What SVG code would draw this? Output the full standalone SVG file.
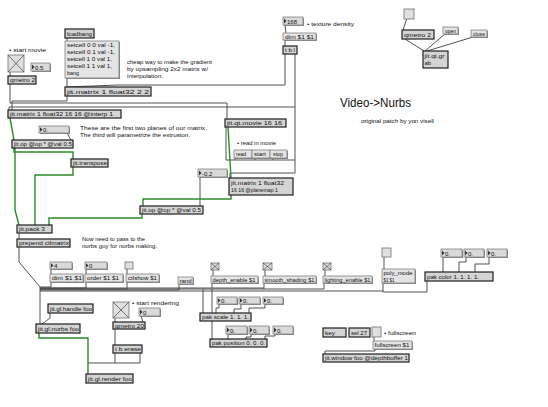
<svg xmlns="http://www.w3.org/2000/svg" width="548" height="407" viewBox="0 0 548 407">
<style>
.o{fill:#d4d4d4;stroke:#1e1e1e;stroke-width:1.2}
.m{fill:#e4e4e4;stroke:#808080;stroke-width:0.8}
.sh{fill:#8a8a8a}
.n{fill:#dadada;stroke:#808080;stroke-width:0.8}
.tri{fill:#333}
.tg{fill:#e0e0e0;stroke:#707070;stroke-width:0.8}
.x{stroke:#505050;stroke-width:0.8}
.w{stroke:#404040;fill:none;stroke-width:0.9}
.g{stroke:#2b8a2b;fill:none;stroke-width:1.4}
text{font-family:"Liberation Sans",Arial,sans-serif;font-size:6px;fill:#111}
.c{font-size:5.6px}
.title{font-size:12px}
.sm{font-size:5px}
</style>
<rect width="548" height="407" fill="#fff"/>

<g id="connectors">
<!-- top left -->
<polyline class="w" points="10,72 10,76"/>
<polyline class="w" points="10,84 10,103 227,103 227,119"/>
<polyline class="w" points="67,38 67,41"/>
<polyline class="w" points="67,78 67,87"/>
<polyline class="w" points="67,96 67,101 12,101 12,110"/>
<polyline class="w" points="285,25 286,33"/>
<polyline class="w" points="285,40 285,46"/>
<polyline class="w" points="285,54 285,85 118,85 66,87"/>
<polyline class="w" points="295,54 295,107 9,107 9,110"/>
<polyline class="w" points="295,107 295,173 230,173 230,178"/>
<polyline class="w" points="295,160 226,160 226,127"/>
<polyline class="w" points="235,158 235,160"/>
<polyline class="w" points="255,158 255,160"/>
<polyline class="w" points="273,158 273,160"/>
<polyline class="w" points="200,177 200,206"/>
<polyline class="w" points="67,133 71,140"/>
<!-- top right -->
<line class="w" x1="407" y1="18" x2="403" y2="30"/>
<line class="w" x1="405" y1="39" x2="424" y2="51"/>
<line class="w" x1="445" y1="34" x2="425" y2="51"/>
<line class="w" x1="473" y1="37" x2="427" y2="51"/>
<!-- green matrix lines -->
<polyline class="g" points="10,118 14,140"/>
<polyline class="g" points="14,148 14,152 73,152 73,159"/>
<polyline class="g" points="15,148 15,210 19,225"/>
<polyline class="g" points="73,167 73,175 35,175 35,225"/>
<polyline class="g" points="228,127 231,178"/>
<polyline class="g" points="231,195 231,199 143,199 143,206"/>
<polyline class="g" points="142,213 142,218 49,218 49,225"/>
<!-- middle -->
<polyline class="w" points="19,233 19,239"/>
<polyline class="w" points="19,247 19,262 40,287 40,324"/>
<polyline class="w" points="51,269 51,274"/>
<polyline class="w" points="86,269 86,274"/>
<polyline class="w" points="127,269 127,274"/>
<polyline class="w" points="213,270 213,276"/>
<polyline class="w" points="265,270 265,276"/>
<polyline class="w" points="325,270 325,276"/>
<polyline class="w" points="384,257 384,269"/>
<!-- bus -->
<polyline class="w" points="51,282 51,287 40,287"/>
<polyline class="w" points="86,282 86,288 40,288"/>
<polyline class="w" points="127,282 127,289 40,289"/>
<polyline class="w" points="179,284 179,290 40,290"/>
<polyline class="w" points="212,283 212,288"/>
<polyline class="w" points="264,283 264,289"/>
<polyline class="w" points="324,283 324,289 40,289"/>
<polyline class="w" points="383,283 383,291 40,291"/>
<polyline class="w" points="427,281 427,292 383,292 383,291"/>
<polyline class="w" points="40,288 264,288"/>
<polyline class="w" points="203,289 203,313"/>
<polyline class="w" points="212,289 212,339"/>
<!-- pak color -->
<polyline class="w" points="443,257 443,272"/>
<polyline class="w" points="466,257 466,262 459,262 459,272"/>
<polyline class="w" points="489,257 489,264 475,264 475,272"/>
<!-- pak scale -->
<polyline class="w" points="219,304 219,308 216,308 216,313"/>
<polyline class="w" points="241,304 241,309 234,309 234,313"/>
<polyline class="w" points="265,304 265,308 249,308 249,313"/>
<!-- pak position -->
<polyline class="w" points="228,334 228,339"/>
<polyline class="w" points="251,334 251,337 246,337 246,339"/>
<polyline class="w" points="275,334 275,336 265,336 265,339"/>
<!-- fullscreen -->
<polyline class="w" points="374,337 374,341"/>
<polyline class="w" points="375,349 375,351 325,351 325,354"/>
<!-- render -->
<polyline class="w" points="115,318 115,322"/>
<polyline class="w" points="141,316 143,322"/>
<polyline class="w" points="115,329 115,345"/>
<polyline class="w" points="115,353 115,363"/>
<polyline class="w" points="140,353 140,363 88,363"/>
<polyline class="w" points="50,313 50,318 42,324"/>
<polyline class="g" points="39,333 39,338 88,338 88,374"/>
</g>

<!-- comments -->
<g id="comments">
<text class="c" x="9" y="52" textLength="37" lengthAdjust="spacingAndGlyphs">• start movie</text>
<text class="c" x="127" y="64" textLength="85" lengthAdjust="spacingAndGlyphs">cheap way to make the gradient</text>
<text class="c" x="127" y="71" textLength="81" lengthAdjust="spacingAndGlyphs">by upsampling 2x2 matrix w/</text>
<text class="c" x="127" y="78" textLength="36" lengthAdjust="spacingAndGlyphs">interpolation.</text>
<text class="c" x="307" y="26" textLength="47" lengthAdjust="spacingAndGlyphs">• texture density</text>
<text class="c" x="80" y="130" textLength="127" lengthAdjust="spacingAndGlyphs">These are the first two planes of our matrix.</text>
<text class="c" x="80" y="137" textLength="110" lengthAdjust="spacingAndGlyphs">The third will parametrize the extrusion.</text>
<text class="c" x="237" y="145" textLength="39" lengthAdjust="spacingAndGlyphs">• read in movie</text>
<text class="title" x="340" y="107" textLength="71" lengthAdjust="spacingAndGlyphs">Video-&gt;Nurbs</text>
<text class="sm" x="361" y="123" textLength="73" lengthAdjust="spacingAndGlyphs">original patch by yon visell</text>
<text class="c" x="82" y="241" textLength="63" lengthAdjust="spacingAndGlyphs">Now need to pass to the</text>
<text class="c" x="82" y="248" textLength="75" lengthAdjust="spacingAndGlyphs">nurbs guy for nurbs making.</text>
<text class="c" x="132" y="305" textLength="47" lengthAdjust="spacingAndGlyphs">• start rendering</text>
<text class="c" x="384" y="335" textLength="32" lengthAdjust="spacingAndGlyphs">• fullscreen</text>
</g>

<!-- top left -->
<g id="toggle-movie"><rect class="tg" x="8" y="55" width="16" height="17"/><line class="x" x1="8" y1="55" x2="24" y2="72"/><line class="x" x1="24" y1="55" x2="8" y2="72"/></g>
<g id="num-05"><rect class="sh" x="32" y="64" width="19" height="8"/><rect class="n" x="31" y="63" width="19" height="8"/><polygon class="tri" points="32,64.5 34.5,67 32,69.5"/><text x="35" y="69.5">0.5</text></g>
<g id="qmetro2a"><rect class="o" x="8" y="76" width="28" height="8"/><text x="10" y="82.3" textLength="25" lengthAdjust="spacingAndGlyphs">qmetro 2</text></g>
<g id="loadbang"><rect class="o" x="65" y="29" width="29" height="9"/><text x="67" y="35.8" textLength="25" lengthAdjust="spacingAndGlyphs">loadbang</text></g>
<g id="setcell"><rect class="sh" x="66" y="42" width="54" height="37"/><rect class="m" x="65" y="41" width="54" height="37"/>
<text x="67" y="47" textLength="48" lengthAdjust="spacingAndGlyphs">setcell 0 0 val -1,</text>
<text x="67" y="54" textLength="48" lengthAdjust="spacingAndGlyphs">setcell 0 1 val -1,</text>
<text x="67" y="61" textLength="45" lengthAdjust="spacingAndGlyphs">setcell 1 0 val 1,</text>
<text x="67" y="68" textLength="45" lengthAdjust="spacingAndGlyphs">setcell 1 1 val 1,</text>
<text x="67" y="75" textLength="12" lengthAdjust="spacingAndGlyphs">bang</text></g>
<g id="jitmatrix22"><rect class="o" x="65" y="87" width="86" height="9"/><text x="67" y="93.8" textLength="82" lengthAdjust="spacingAndGlyphs">jit.matrix 1 float32 2 2</text></g>

<g id="num-168"><rect class="sh" x="284" y="18" width="20" height="8"/><rect class="n" x="283" y="17" width="20" height="8"/><polygon class="tri" points="284,18.5 286.5,21 284,23.5"/><text x="287" y="23.5" textLength="10" lengthAdjust="spacingAndGlyphs">168</text></g>
<g id="dim-top"><rect class="sh" x="284" y="34" width="33" height="7"/><rect class="m" x="283" y="33" width="33" height="7"/><text x="285" y="38.6" textLength="29" lengthAdjust="spacingAndGlyphs">dim $1 $1</text></g>
<g id="tbl"><rect class="o" x="283" y="46" width="14" height="8"/><text x="285" y="52.3" textLength="10" lengthAdjust="spacingAndGlyphs">t b l</text></g>

<!-- top right -->
<g id="toggle-grab"><rect class="tg" x="404" y="9" width="10" height="10"/></g>
<g id="qmetro2b"><rect class="o" x="402" y="30" width="32" height="9"/><text x="404" y="36.8" textLength="27" lengthAdjust="spacingAndGlyphs">qmetro 2</text></g>
<g id="open"><rect class="sh" x="444" y="28" width="15" height="7"/><rect class="m" x="443" y="27" width="15" height="7"/><text x="445" y="32.6" textLength="11" lengthAdjust="spacingAndGlyphs">open</text></g>
<g id="close"><rect class="sh" x="472" y="31" width="16" height="7"/><rect class="m" x="471" y="30" width="16" height="7"/><text x="473" y="35.6" textLength="12" lengthAdjust="spacingAndGlyphs">close</text></g>
<g id="jitqtgrab"><rect class="o" x="423" y="51" width="25" height="17"/><text x="424.5" y="57.5" textLength="20" lengthAdjust="spacingAndGlyphs">jit.qt.gr</text><text x="424.5" y="64.5">ab</text></g>

<!-- matrix chain -->
<g id="jitmatrix1616"><rect class="o" x="8" y="110" width="113" height="8"/><text x="10" y="116.3" textLength="103" lengthAdjust="spacingAndGlyphs">jit.matrix 1 float32 16 16 @interp 1</text></g>
<g id="num-0a"><rect class="sh" x="40" y="127" width="30" height="7"/><rect class="n" x="39" y="126" width="30" height="7"/><polygon class="tri" points="40,127.3 42.5,129.5 40,131.7"/><text x="43" y="131.8">0.</text></g>
<g id="jitop1"><rect class="o" x="12" y="140" width="61" height="8"/><text x="14" y="146.3" textLength="58" lengthAdjust="spacingAndGlyphs">jit.op @op * @val 0.5</text></g>
<g id="jittranspose"><rect class="o" x="71" y="159" width="37" height="8"/><text x="73" y="165.3" textLength="34" lengthAdjust="spacingAndGlyphs">jit.transpose</text></g>
<g id="jitqtmovie"><rect class="o" x="225" y="119" width="61" height="8"/><text x="227" y="125.3" textLength="55" lengthAdjust="spacingAndGlyphs">jit.qt.movie 16 16</text></g>
<g id="read"><rect class="sh" x="235" y="151" width="18" height="8"/><rect class="m" x="234" y="150" width="18" height="8"/><text x="236" y="156.3" textLength="10" lengthAdjust="spacingAndGlyphs">read</text></g>
<g id="start"><rect class="sh" x="253" y="151" width="18" height="8"/><rect class="m" x="252" y="150" width="18" height="8"/><text x="254" y="156.3" textLength="12" lengthAdjust="spacingAndGlyphs">start</text></g>
<g id="stop"><rect class="sh" x="271" y="151" width="17" height="8"/><rect class="m" x="270" y="150" width="17" height="8"/><text x="273" y="156.3" textLength="10" lengthAdjust="spacingAndGlyphs">stop</text></g>
<g id="num-m02"><rect class="sh" x="199" y="170" width="29" height="8"/><rect class="n" x="198" y="169" width="29" height="8"/><polygon class="tri" points="199,170.5 201.5,173 199,175.5"/><text x="202" y="175.5">-0.2</text></g>
<g id="jitmatrixplanemap"><rect class="o" x="229" y="178" width="64" height="17"/><text x="231" y="184.5" textLength="53" lengthAdjust="spacingAndGlyphs">jit.matrix 1 float32</text><text x="231" y="192" textLength="47" lengthAdjust="spacingAndGlyphs">16 16 @planemap 1</text></g>
<g id="jitop2"><rect class="o" x="140" y="206" width="63" height="8"/><text x="142" y="212.3" textLength="59" lengthAdjust="spacingAndGlyphs">jit.op @op * @val 0.5</text></g>
<g id="jitpack"><rect class="o" x="17" y="225" width="35" height="8"/><text x="19" y="231.3" textLength="26" lengthAdjust="spacingAndGlyphs">jit.pack 3</text></g>
<g id="prepend"><rect class="o" x="17" y="239" width="53" height="8"/><text x="19" y="245.3" textLength="50" lengthAdjust="spacingAndGlyphs">prepend ctlmatrix</text></g>

<!-- nurbs params -->
<g id="num-4"><rect class="sh" x="51" y="263" width="22" height="7"/><rect class="n" x="50" y="262" width="22" height="7"/><polygon class="tri" points="51,263.3 53.5,265.5 51,267.7"/><text x="54" y="267.8">4</text></g>
<g id="num-0b"><rect class="sh" x="86" y="263" width="22" height="7"/><rect class="n" x="85" y="262" width="22" height="7"/><polygon class="tri" points="86,263.3 88.5,265.5 86,267.7"/><text x="89" y="267.8">0</text></g>
<g id="toggle-ctl"><rect class="tg" x="125" y="262" width="8" height="7"/></g>
<g id="dim-bot"><rect class="sh" x="51" y="275" width="33" height="8"/><rect class="m" x="50" y="274" width="33" height="8"/><text x="52" y="280.3" textLength="30" lengthAdjust="spacingAndGlyphs">dim $1 $1</text></g>
<g id="order"><rect class="sh" x="86" y="275" width="38" height="8"/><rect class="m" x="85" y="274" width="38" height="8"/><text x="87" y="280.3" textLength="32" lengthAdjust="spacingAndGlyphs">order $1 $1</text></g>
<g id="ctlshow"><rect class="sh" x="127" y="275" width="33" height="8"/><rect class="m" x="126" y="274" width="33" height="8"/><text x="128" y="280.3" textLength="29" lengthAdjust="spacingAndGlyphs">ctlshow $1</text></g>
<g id="rand"><rect class="sh" x="179" y="278" width="15" height="7"/><rect class="m" x="178" y="277" width="15" height="7"/><text x="179.5" y="282.6" textLength="12" lengthAdjust="spacingAndGlyphs">rand</text></g>
<g id="toggle-depth"><rect class="tg" x="211" y="263" width="8" height="7"/><line class="x" x1="211" y1="263" x2="219" y2="270"/><line class="x" x1="219" y1="263" x2="211" y2="270"/></g>
<g id="toggle-smooth"><rect class="tg" x="263" y="263" width="9" height="7"/><line class="x" x1="263" y1="263" x2="272" y2="270"/><line class="x" x1="272" y1="263" x2="263" y2="270"/></g>
<g id="toggle-light"><rect class="tg" x="323" y="263" width="8" height="7"/><line class="x" x1="323" y1="263" x2="331" y2="270"/><line class="x" x1="331" y1="263" x2="323" y2="270"/></g>
<g id="depth"><rect class="sh" x="212" y="277" width="47" height="7"/><rect class="m" x="211" y="276" width="47" height="7"/><text x="212.5" y="281.6" textLength="43" lengthAdjust="spacingAndGlyphs">depth_enable $1</text></g>
<g id="smooth"><rect class="sh" x="264" y="277" width="53" height="7"/><rect class="m" x="263" y="276" width="53" height="7"/><text x="264.5" y="281.6" textLength="50" lengthAdjust="spacingAndGlyphs">smooth_shading $1</text></g>
<g id="lighting"><rect class="sh" x="324" y="277" width="49" height="7"/><rect class="m" x="323" y="276" width="49" height="7"/><text x="324.5" y="281.6" textLength="46" lengthAdjust="spacingAndGlyphs">lighting_enable $1</text></g>
<g id="toggle-poly"><rect class="tg" x="382" y="248" width="9" height="9"/></g>
<g id="poly"><rect class="sh" x="383" y="270" width="33" height="14"/><rect class="m" x="382" y="269" width="33" height="14"/><text x="383.5" y="275" textLength="29" lengthAdjust="spacingAndGlyphs">poly_mode</text><text x="383.5" y="281.5" textLength="11" lengthAdjust="spacingAndGlyphs">$1 $1</text></g>
<g id="num-c1"><rect class="sh" x="442" y="250" width="21" height="8"/><rect class="n" x="441" y="249" width="21" height="8"/><polygon class="tri" points="442,250.5 444.5,253 442,255.5"/><text x="445" y="255.5">0.</text></g>
<g id="num-c2"><rect class="sh" x="465" y="250" width="20" height="8"/><rect class="n" x="464" y="249" width="20" height="8"/><polygon class="tri" points="465,250.5 467.5,253 465,255.5"/><text x="468" y="255.5">0.</text></g>
<g id="num-c3"><rect class="sh" x="488" y="250" width="20" height="8"/><rect class="n" x="487" y="249" width="20" height="8"/><polygon class="tri" points="488,250.5 490.5,253 488,255.5"/><text x="491" y="255.5">0.</text></g>
<g id="pakcolor"><rect class="o" x="425" y="272" width="68" height="9"/><text x="427" y="278.8" textLength="52" lengthAdjust="spacingAndGlyphs">pak color 1. 1. 1. 1.</text></g>
<g id="num-s1"><rect class="sh" x="218" y="298" width="20" height="7"/><rect class="n" x="217" y="297" width="20" height="7"/><polygon class="tri" points="218,298.3 220.5,300.5 218,302.7"/><text x="221" y="302.8">0.</text></g>
<g id="num-s2"><rect class="sh" x="240" y="298" width="21" height="7"/><rect class="n" x="239" y="297" width="21" height="7"/><polygon class="tri" points="240,298.3 242.5,300.5 240,302.7"/><text x="243" y="302.8">0.</text></g>
<g id="num-s3"><rect class="sh" x="264" y="298" width="20" height="7"/><rect class="n" x="263" y="297" width="20" height="7"/><polygon class="tri" points="264,298.3 266.5,300.5 264,302.7"/><text x="267" y="302.8">0.</text></g>
<g id="pakscale"><rect class="o" x="200" y="313" width="51" height="8"/><text x="202" y="319.3" textLength="47" lengthAdjust="spacingAndGlyphs">pak scale 1. 1. 1.</text></g>
<g id="num-p1"><rect class="sh" x="227" y="327" width="21" height="8"/><rect class="n" x="226" y="326" width="21" height="8"/><polygon class="tri" points="227,327.5 229.5,330 227,332.5"/><text x="230" y="332.5">0.</text></g>
<g id="num-p2"><rect class="sh" x="250" y="327" width="20" height="8"/><rect class="n" x="249" y="326" width="20" height="8"/><polygon class="tri" points="250,327.5 252.5,330 250,332.5"/><text x="253" y="332.5">0.</text></g>
<g id="num-p3"><rect class="sh" x="274" y="327" width="20" height="8"/><rect class="n" x="273" y="326" width="20" height="8"/><polygon class="tri" points="274,327.5 276.5,330 274,332.5"/><text x="277" y="332.5">0.</text></g>
<g id="pakposition"><rect class="o" x="210" y="339" width="57" height="8"/><text x="212" y="345.3" textLength="53" lengthAdjust="spacingAndGlyphs">pak position 0. 0. 0.</text></g>

<!-- window -->
<g id="key"><rect class="o" x="323" y="328" width="23" height="9"/><text x="325" y="334.8" textLength="10" lengthAdjust="spacingAndGlyphs">key</text></g>
<g id="sel27"><rect class="o" x="349" y="328" width="21" height="9"/><text x="351" y="334.8" textLength="16" lengthAdjust="spacingAndGlyphs">sel 27</text></g>
<g id="toggle-fs"><rect class="tg" x="372" y="327" width="9" height="10"/></g>
<g id="fullscreen"><rect class="sh" x="374" y="342" width="39" height="8"/><rect class="m" x="373" y="341" width="39" height="8"/><text x="374.5" y="347.3" textLength="35" lengthAdjust="spacingAndGlyphs">fullscreen $1</text></g>
<g id="jitwindow"><rect class="o" x="323" y="354" width="86" height="8"/><text x="325" y="360.3" textLength="83" lengthAdjust="spacingAndGlyphs">jit.window foo @depthbuffer 1</text></g>

<!-- render -->
<g id="jitglhandle"><rect class="o" x="48" y="304" width="45" height="9"/><text x="50" y="310.8" textLength="42" lengthAdjust="spacingAndGlyphs">jit.gl.handle foo</text></g>
<g id="toggle-render"><rect class="tg" x="113" y="302" width="16" height="16"/><line class="x" x1="113" y1="302" x2="129" y2="318"/><line class="x" x1="129" y1="302" x2="113" y2="318"/></g>
<g id="num-rate"><rect class="sh" x="140" y="309" width="21" height="8"/><rect class="n" x="139" y="308" width="21" height="8"/><polygon class="tri" points="140,309.5 142.5,312 140,314.5"/><text x="143" y="314.5">0</text></g>
<g id="qmetro20"><rect class="o" x="113" y="322" width="32" height="7"/><text x="115" y="327.8" textLength="29" lengthAdjust="spacingAndGlyphs">qmetro 20</text></g>
<g id="tberase"><rect class="o" x="113" y="345" width="29" height="8"/><text x="115" y="351.3" textLength="26" lengthAdjust="spacingAndGlyphs">t b erase</text></g>
<g id="jitglnurbs"><rect class="o" x="36" y="324" width="44" height="9"/><text x="38" y="330.8" textLength="41" lengthAdjust="spacingAndGlyphs">jit.gl.nurbs foo</text></g>
<g id="jitglrender"><rect class="o" x="86" y="374" width="47" height="9"/><text x="88" y="380.8" textLength="44" lengthAdjust="spacingAndGlyphs">jit.gl.render foo</text></g>
</svg>
